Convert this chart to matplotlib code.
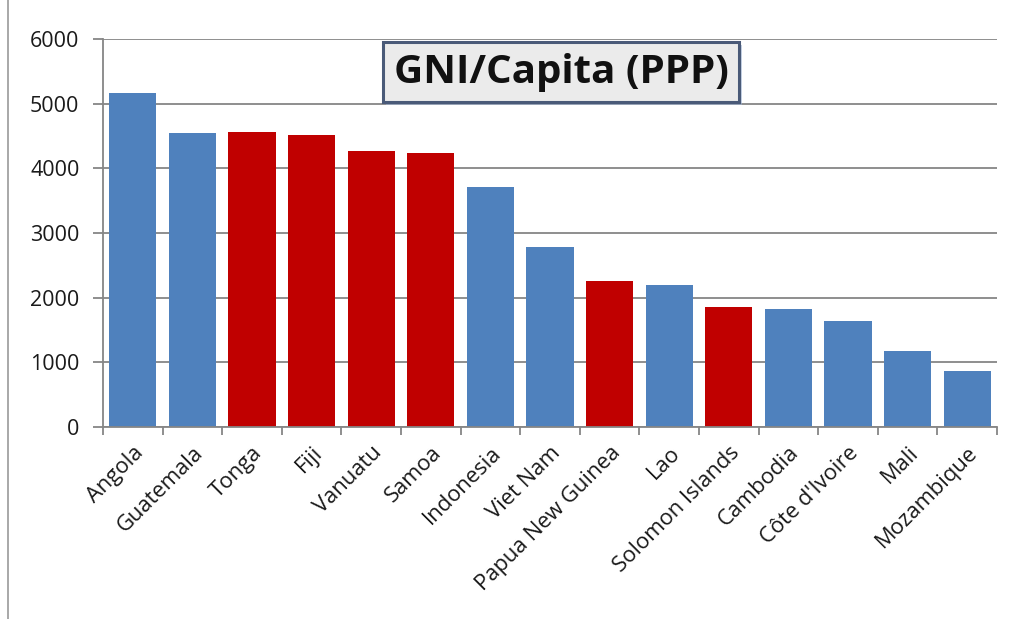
import matplotlib.pyplot as plt
import matplotlib.patheffects as pe
import numpy as np

countries = ["Angola", "Guatemala", "Tonga", "Fiji", "Vanuatu", "Samoa", "Indonesia",
             "Viet Nam", "Papua New Guinea", "Lao", "Solomon Islands", "Cambodia",
             "Côte d'Ivoire", "Mali", "Mozambique"]
gni = [5170, 4550, 4560, 4520, 4270, 4240, 3715, 2780, 2255, 2190, 1860, 1820, 1635, 1170, 860]
pacific = [False, False, True, True, True, True, False, False, True, False, True, False, False, False, False]

blue = "#4f81bd"
red = "#c00000"
grey = "#868686"

plt.rcParams['font.family'] = ['Open Sans', 'DejaVu Sans']

fig = plt.figure(figsize=(10.14, 6.19), dpi=100)
ax = fig.add_axes([103/1014, 1 - 427/619, (997-103)/1014, (427-39)/619])

x = np.arange(len(countries))
colors = [red if p else blue for p in pacific]
ax.bar(x, gni, width=0.79, color=colors, zorder=2)

ax.set_xlim(-0.5, len(countries) - 0.5)
ax.set_ylim(0, 6000)
ax.set_yticks(np.arange(0, 6001, 1000))
ax.yaxis.grid(True, color=grey, linewidth=1.3, zorder=0)
ax.set_axisbelow(True)

# labels at centres, tick marks at category edges
ax.set_xticks(x)
ax.set_xticklabels(countries, rotation=45, ha='right', rotation_mode='anchor', fontsize=15.8, color='#1a1a1a')
ax.tick_params(axis='x', which='major', length=0, pad=11)
ax.set_xticks(np.arange(-0.5, len(countries)), minor=True)
ax.tick_params(axis='x', which='minor', length=6, color=grey, width=1.3)
ax.tick_params(axis='y', length=7, color=grey, width=1.3, labelsize=15.5, labelcolor='#1a1a1a', pad=10)

for s in ['top', 'right']:
    ax.spines[s].set_visible(False)
for s in ['left', 'bottom']:
    ax.spines[s].set_color(grey)
    ax.spines[s].set_linewidth(1.3)

# chart frame on the left
fig.add_artist(plt.Line2D([8/1014, 8/1014], [0, 1], color='#9a9a9a', linewidth=1.2))

title = fig.text(561/1014, 1 - 72/619, "GNI/Capita (PPP)", ha='center', va='center', fontsize=29,
                 fontweight='bold', color='#111111',
                 bbox=dict(boxstyle='square,pad=0.26', facecolor='#ebebeb', edgecolor='#4a5a78', linewidth=2.2))
title.get_bbox_patch().set_path_effects([
    pe.SimplePatchShadow(offset=(2, -2), shadow_rgbFace='#9fb3d1', alpha=0.6), pe.Normal()])

fig.savefig("out.png", dpi=100)
